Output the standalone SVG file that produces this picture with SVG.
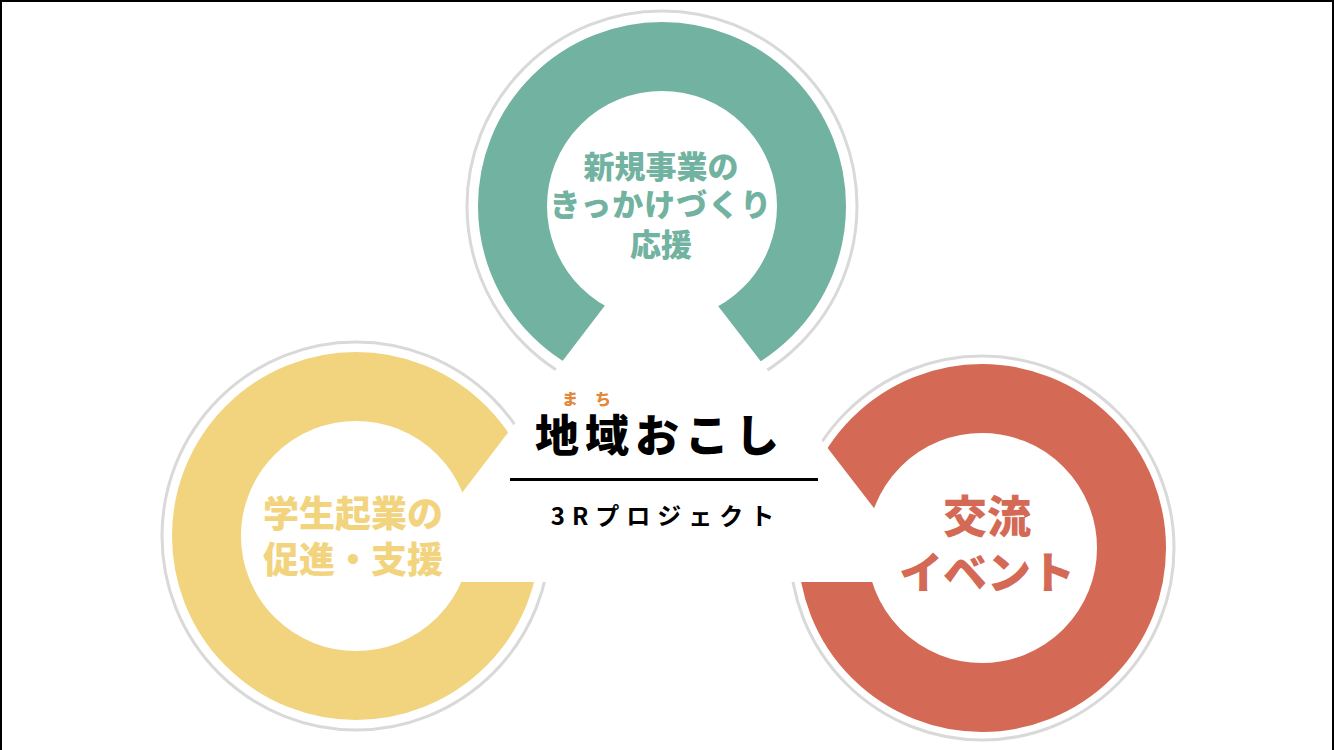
<svg xmlns="http://www.w3.org/2000/svg" width="1334" height="750" viewBox="0 0 1334 750">
<style>
.ring{fill:#fff;stroke-width:69}
.outline{fill:none;stroke:#d9d9d9;stroke-width:3}
.lbl{font-family:"Noto Sans CJK JP","Noto Sans",sans-serif;font-weight:900;text-anchor:middle}
</style>
<rect x="0" y="0" width="1334" height="750" fill="#fff"/>
<g id="node-green">
<circle class="outline" cx="662" cy="206" r="195"/>
<circle class="ring" cx="662" cy="206" r="149.5" stroke="#72b2a0"/>
</g>
<g id="node-yellow">
<circle class="outline" cx="356" cy="536" r="194"/>
<circle class="ring" cx="356" cy="536" r="149.5" stroke="#f2d47f"/>
</g>
<g id="node-red">
<circle class="outline" cx="982" cy="548" r="192"/>
<circle class="ring" cx="982" cy="548" r="149.5" stroke="#d46a55"/>
</g>
<g id="connectors">
<polygon points="661,232 394,582 931,582" fill="#fff"/>
</g>
<g id="label-green">
<text class="lbl" x="661" y="178" font-size="31" fill="#72b2a0">新規事業の</text>
<text class="lbl" x="661" y="216" font-size="31" letter-spacing="1" fill="#72b2a0">きっかけづくり</text>
<text class="lbl" x="661" y="256" font-size="31" fill="#72b2a0">応援</text>
</g>
<g id="label-yellow">
<text class="lbl" x="353" y="527" font-size="36" fill="#f2d47f">学生起業の</text>
<text class="lbl" x="353" y="573" font-size="36" fill="#f2d47f">促進・支援</text>
</g>
<g id="label-red">
<text class="lbl" x="987" y="533" font-size="44" fill="#d46a55">交流</text>
<text class="lbl" x="987" y="589" font-size="44" fill="#d46a55">イベント</text>
</g>
<g id="center">
<text class="lbl" x="570" y="405" font-size="16" fill="#e5873b">ま</text>
<text class="lbl" x="603" y="405" font-size="16" fill="#e5873b">ち</text>
<text class="lbl" x="660" y="452" font-size="44" letter-spacing="6" fill="#000">地域おこし</text>
<line x1="510" y1="479.5" x2="818" y2="479.5" stroke="#000" stroke-width="3"/>
<text x="666" y="525" font-family="&quot;Noto Sans CJK JP&quot;,&quot;Noto Sans&quot;,sans-serif" font-weight="700" font-size="24" letter-spacing="7" text-anchor="middle" fill="#000">3Rプロジェクト</text>
</g>
<g id="frame" fill="#000">
<rect x="0" y="0" width="1334" height="2"/>
<rect x="0" y="0" width="2" height="750"/>
<rect x="1332" y="0" width="2" height="750"/>
</g>
</svg>
